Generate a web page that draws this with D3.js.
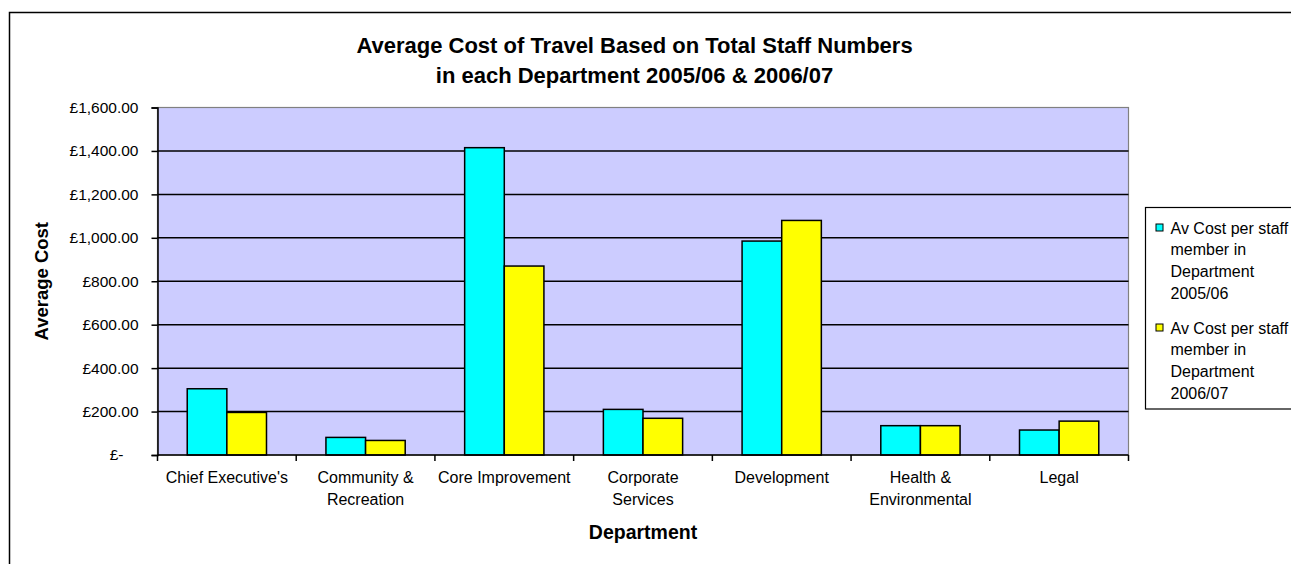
<!DOCTYPE html>
<html>
<head>
<meta charset="utf-8">
<script src="https://cdn.jsdelivr.net/npm/d3@7"></script>
<style>
  html, body { margin: 0; padding: 0; background: #fff; }
  svg { display: block; font-family: Arial, "Liberation Sans", sans-serif; }
</style>
</head>
<body>
<svg id="chart" width="1291" height="564"></svg>
<script>
// Departments (multi-line labels split on "|")
const departments = [
  "Chief Executive's",
  "Community &|Recreation",
  "Core Improvement",
  "Corporate|Services",
  "Development",
  "Health &|Environmental",
  "Legal"
];
// Average cost of travel per staff member, £
const cost2005 = [305, 81, 1415, 210, 985, 135, 115];
const cost2006 = [196, 67, 870, 169, 1080, 135, 156];
const seriesNames = [
  "Av Cost per staff|member in|Department|2005/06",
  "Av Cost per staff|member in|Department|2006/07"
];
const seriesColors = ["#00FFFF", "#FFFF00"];
const yTicks = [0, 200, 400, 600, 800, 1000, 1200, 1400, 1600];
const titleLines = [
  "Average Cost of Travel Based on Total Staff Numbers",
  "in each Department 2005/06 & 2006/07"
];

const svg = d3.select("#chart");
const plot = { left: 157.5, right: 1128.5, top: 107.5, bottom: 455 };

// outer chart frame
svg.append("rect")
  .attr("x", 9.5).attr("y", 12.5)
  .attr("width", 1400).attr("height", 700)
  .attr("fill", "#fff").attr("stroke", "#000").attr("stroke-width", 1.5);

const x = d3.scaleBand().domain(d3.range(departments.length))
  .range([plot.left, plot.right]).padding(0);
const groupFrac = 2 / 3.5;
const xs = d3.scaleBand().domain([0, 1])
  .range([0, x.bandwidth() * groupFrac]).padding(0);
const y = d3.scaleLinear().domain([0, 1600]).range([plot.bottom, plot.top]);

// plot background
svg.append("rect")
  .attr("x", plot.left).attr("y", plot.top)
  .attr("width", plot.right - plot.left).attr("height", plot.bottom - plot.top)
  .attr("fill", "#CCCCFF").attr("stroke", "#808080").attr("stroke-width", 1.2);

// horizontal gridlines
svg.append("g").selectAll("line")
  .data(yTicks.filter(d => d > 0 && d < 1600))
  .join("line")
  .attr("x1", plot.left).attr("x2", plot.right)
  .attr("y1", d => y(d)).attr("y2", d => y(d))
  .attr("stroke", "#000").attr("stroke-width", 1.5);

// bars
const series = [cost2005, cost2006];
series.forEach((vals, si) => {
  svg.append("g").selectAll("rect")
    .data(vals)
    .join("rect")
    .attr("x", (d, i) => x(i) + (x.bandwidth() * (1 - groupFrac)) / 2 + xs(si))
    .attr("y", d => y(d))
    .attr("width", xs.bandwidth())
    .attr("height", d => y(0) - y(d))
    .attr("fill", seriesColors[si])
    .attr("stroke", "#000").attr("stroke-width", 1.5);
});

// y axis
const fmt = d3.format(",.2f");
const yAxis = svg.append("g")
  .attr("transform", `translate(${plot.left},0)`)
  .call(d3.axisLeft(y).tickValues(yTicks).tickSize(6).tickPadding(13)
    .tickFormat(d => d === 0 ? "£-" : "£" + fmt(d)));
yAxis.select(".domain").attr("stroke", "#000").attr("stroke-width", 1.5);
yAxis.selectAll(".tick line").attr("stroke", "#000").attr("stroke-width", 1.5);
yAxis.selectAll(".tick text")
  .attr("font-size", 15.5).attr("fill", "#000")
  .attr("font-family", "Arial, 'Liberation Sans', sans-serif")
  .attr("dx", d => d === 0 ? -15 : 0);

// x axis with ticks at category boundaries
const xAxisG = svg.append("g").attr("transform", `translate(0,${plot.bottom})`);
xAxisG.append("line")
  .attr("x1", plot.left).attr("x2", plot.right)
  .attr("stroke", "#000").attr("stroke-width", 1.5);
xAxisG.selectAll("line.tk")
  .data(d3.range(departments.length + 1))
  .join("line").attr("class", "tk")
  .attr("x1", i => i < departments.length ? x(i) : plot.right)
  .attr("x2", i => i < departments.length ? x(i) : plot.right)
  .attr("y1", 0).attr("y2", 6)
  .attr("stroke", "#000").attr("stroke-width", 1.5);

const catText = xAxisG.selectAll("text.cat")
  .data(departments)
  .join("text").attr("class", "cat")
  .attr("x", (d, i) => x(i) + x.bandwidth() / 2)
  .attr("y", 28)
  .attr("text-anchor", "middle")
  .attr("font-size", 16).attr("fill", "#000");
catText.selectAll("tspan")
  .data(d => d.split("|"))
  .join("tspan")
  .attr("x", function () { return d3.select(this.parentNode).attr("x"); })
  .attr("dy", (d, i) => i === 0 ? 0 : 22)
  .text(d => d);

// titles
svg.append("text")
  .attr("text-anchor", "middle")
  .attr("font-size", 22).attr("font-weight", "bold")
  .selectAll("tspan").data(titleLines).join("tspan")
  .attr("x", 634.5)
  .attr("y", (d, i) => 52.5 + i * 30.7)
  .text(d => d);

svg.append("text")
  .attr("x", (plot.left + plot.right) / 2).attr("y", 539)
  .attr("text-anchor", "middle")
  .attr("font-size", 19.5).attr("font-weight", "bold")
  .text("Department");

svg.append("text")
  .attr("transform", `translate(48,${(plot.top + plot.bottom) / 2}) rotate(-90)`)
  .attr("text-anchor", "middle")
  .attr("font-size", 18.5).attr("font-weight", "bold")
  .text("Average Cost");

// legend
const legend = svg.append("g");
legend.append("rect")
  .attr("x", 1145.5).attr("y", 207.5)
  .attr("width", 200).attr("height", 201.5)
  .attr("fill", "#fff").attr("stroke", "#000").attr("stroke-width", 1.2);
seriesNames.forEach((name, si) => {
  const top = 227.5 + si * 100;
  legend.append("rect")
    .attr("x", 1156).attr("y", top - 3.5)
    .attr("width", 7).attr("height", 7)
    .attr("fill", seriesColors[si]).attr("stroke", "#000").attr("stroke-width", 1);
  legend.append("text")
    .attr("font-size", 16).attr("fill", "#000")
    .selectAll("tspan").data(name.split("|")).join("tspan")
    .attr("x", 1170.5)
    .attr("y", (d, i) => top + 6 + i * 21.7)
    .text(d => d);
});
</script>
</body>
</html>
